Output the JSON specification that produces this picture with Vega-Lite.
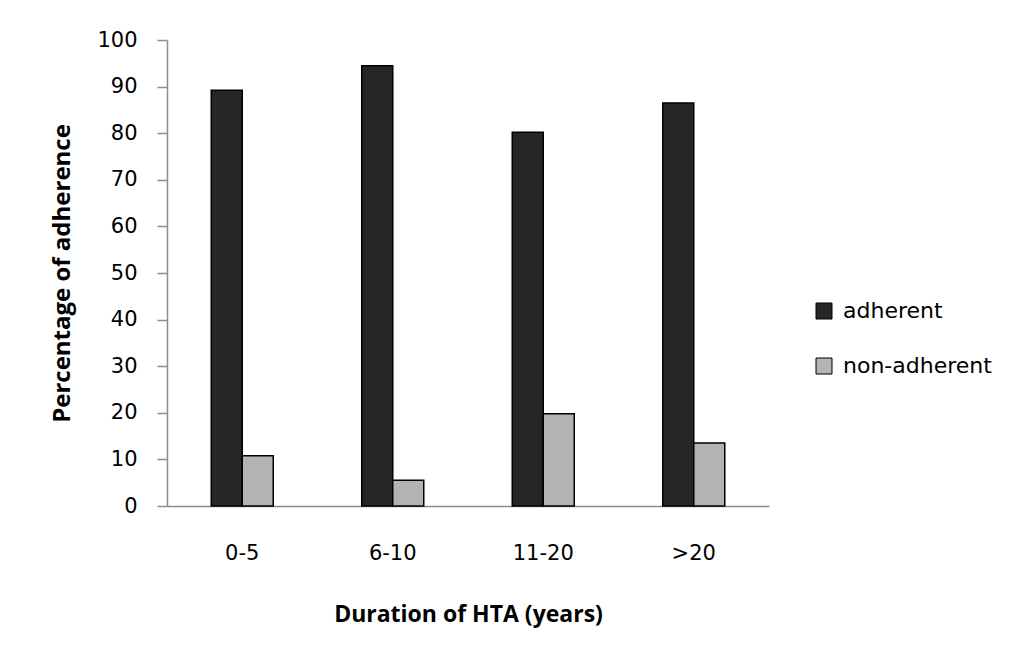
{
  "$schema": "https://vega.github.io/schema/vega-lite/v6.json",
  "autosize": {"type": "none"},
  "width": 602,
  "height": 466,
  "padding": {"left": 167, "top": 40, "right": 245, "bottom": 162},
  "background": "white",
  "config": {
    "view": {"stroke": null},
    "font": "DejaVu Sans"
  },
  "data": {
    "values": [
      {"duration": "0-5", "group": "adherent", "pct": 89.2},
      {"duration": "0-5", "group": "non-adherent", "pct": 10.8},
      {"duration": "6-10", "group": "adherent", "pct": 94.5},
      {"duration": "6-10", "group": "non-adherent", "pct": 5.5},
      {"duration": "11-20", "group": "adherent", "pct": 80.2},
      {"duration": "11-20", "group": "non-adherent", "pct": 19.8},
      {"duration": ">20", "group": "adherent", "pct": 86.5},
      {"duration": ">20", "group": "non-adherent", "pct": 13.5}
    ]
  },
  "mark": {"type": "bar", "stroke": "black", "strokeWidth": 1.5},
  "encoding": {
    "x": {
      "field": "duration",
      "type": "nominal",
      "sort": ["0-5", "6-10", "11-20", ">20"],
      "scale": {"paddingInner": 0.588, "paddingOuter": 0.294},
      "axis": {
        "title": "Duration of HTA (years)",
        "labelAngle": 0,
        "ticks": false,
        "labelPadding": 36,
        "labelFontSize": 21,
        "labelFont": "DejaVu Sans",
        "labelColor": "black",
        "domainColor": "#8c8c8c",
        "domainWidth": 1.5,
        "titleFont": "Open Sans",
        "titleFontSize": 23,
        "titleFontWeight": "bold",
        "titleColor": "black",
        "titlePadding": 40
      }
    },
    "xOffset": {"field": "group", "type": "nominal", "sort": ["adherent", "non-adherent"]},
    "y": {
      "field": "pct",
      "type": "quantitative",
      "scale": {"domain": [0, 100], "nice": false},
      "axis": {
        "title": "Percentage of adherence",
        "values": [0, 10, 20, 30, 40, 50, 60, 70, 80, 90, 100],
        "grid": false,
        "tickSize": 10,
        "tickColor": "#8c8c8c",
        "tickWidth": 1.5,
        "domainColor": "#8c8c8c",
        "domainWidth": 1.5,
        "labelPadding": 20,
        "labelFontSize": 21,
        "labelFont": "DejaVu Sans",
        "labelColor": "black",
        "titleFont": "Open Sans",
        "titleFontSize": 24,
        "titleFontWeight": "bold",
        "titleColor": "black",
        "titlePadding": 22
      }
    },
    "color": {
      "field": "group",
      "type": "nominal",
      "scale": {"domain": ["adherent", "non-adherent"], "range": ["#262626", "#b3b3b3"]},
      "legend": {
        "title": null,
        "orient": "none",
        "legendX": 646,
        "legendY": 260,
        "symbolType": "square",
        "symbolSize": 256,
        "symbolStrokeColor": "black",
        "symbolStrokeWidth": 1,
        "labelFont": "DejaVu Sans",
        "labelFontSize": 22,
        "labelColor": "black",
        "labelOffset": 8,
        "rowPadding": 33
      }
    }
  }
}
